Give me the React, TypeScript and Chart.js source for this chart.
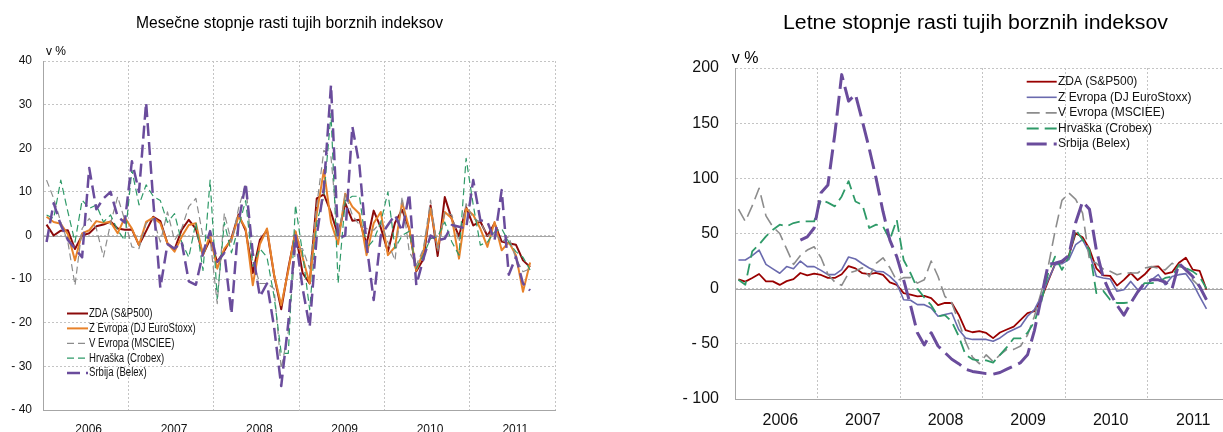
import React, { useEffect, useRef } from 'react';
import { Chart, registerables } from 'chart.js';

Chart.register(...registerables);

// ---------- labels ----------
const yearLabels = ['2006', '2007', '2008', '2009', '2010', '2011'];
const seriesNames = ['ZDA (S&P500)', 'Z Evropa (DJ EuroStoxx)', 'V Evropa (MSCIEE)', 'Hrvaška (Crobex)', 'Srbija (Belex)'];
const leftTitle = 'Mesečne stopnje rasti tujih borznih indeksov';
const rightTitle = 'Letne stopnje rasti tujih borznih indeksov';
const unitLabel = 'v %';

// ---------- monthly growth rates (Jan 2006 - Sep 2011) ----------
const monthlyZDA = [
  2.5, 0.0, 1.1, 1.2, -3.1, 0.0, 0.5, 2.1, 2.5, 3.2, 1.6, 1.3,
  1.4, -2.2, 1.0, 4.3, 3.3, -1.8, -3.2, 1.3, 3.6, 1.5, -4.4, -0.9,
  -6.1, -3.5, -0.6, 4.8, 1.1, -8.6, -1.0, 1.2, -9.1, -16.9, -7.5, 0.8,
  -8.6, -11.0, 8.5, 9.4, 5.3, 0.0, 7.4, 3.4, 3.6, -2.0, 5.7, 1.8,
  -3.7, 2.9, 5.9, 1.5, -8.2, -5.4, 6.9, -4.7, 8.8, 3.7, -0.2, 6.5,
  2.3, 3.2, -0.1, 2.8, -1.4, -1.8, -2.1, -5.7, -7.2,
];
const monthlyEuroStoxx = [
  4.3, 3.1, 2.7, 0.3, -5.7, 0.5, 1.2, 3.3, 2.9, 3.1, 0.5, 4.1,
  1.6, -2.2, 3.1, 4.1, 2.8, -1.8, -3.7, -0.3, 2.4, 2.8, -4.5, 0.1,
  -7.6, -3.0, -1.0, 4.5, 1.6, -11.4, -2.0, 1.6, -9.0, -16.0, -8.0, 1.0,
  -5.0, -11.0, 5.0, 15.0, 3.0, -2.0, 9.6, 6.6, 5.0, -4.5, 2.8, 5.4,
  -4.5, -2.6, 7.7, 1.6, -8.0, -3.7, 6.2, -3.0, 5.4, 3.9, -5.3, 6.2,
  4.7, 1.6, -2.6, 3.1, -3.4, -1.5, -4.5, -12.9, -6.2,
];
const monthlyMSCIEE = [
  12.7, 8.5, 3.1, -1.5, -11.4, 1.6, 3.9, 1.6, -4.9, 2.8, 8.9, 3.5,
  -2.6, -3.0, 2.8, 3.9, -1.5, 5.4, -1.1, 1.6, 6.6, 8.5, -0.3, -0.7,
  -15.6, 5.1, -1.5, 6.2, 11.9, -6.0, -11.0, -11.0, -12.2, -30.5, -22.0, -3.0,
  -3.0, -7.6, 7.0, 19.5, 18.0, -0.7, 9.6, 4.7, 2.4, 1.6, 1.2, 3.1,
  -1.5, -5.7, 8.9, -3.7, -6.8, -3.0, 8.1, -3.7, 5.4, 4.7, -1.5, 7.3,
  3.9, 3.1, 0.0, 0.8, -1.5, -0.3, -5.3, -8.3, -7.6,
];
const monthlyCrobex = [
  4.7, 3.9, 12.7, 5.4, -1.5, 8.1, 6.2, 7.0, 3.1, 4.7, 1.2, -1.1,
  15.0, 7.0, 11.6, 9.0, 8.0, 3.0, 5.0, -1.5, -5.0, 3.0, -8.0, 12.7,
  -14.5, 3.0, -4.0, 2.0, 8.0, -7.0, -3.0, -5.0, -14.0, -27.0, -27.0, 7.0,
  -4.0, -17.0, 3.0, 9.0, 28.0, -11.0, 8.0, 9.0, 9.0, -3.0, -1.0, 3.0,
  10.0, -3.0, 0.0, 1.0, -7.6, -4.5, -0.7, -0.3, 3.1, -1.5, -4.5, 17.7,
  7.0, -2.2, -1.5, 0.8, 1.6, -1.5, -3.7, -5.0, -7.9,
];
const monthlyBelex = [
  -1.5, 7.4, 2.4, -1.0, -3.0, -5.0, 15.5, 6.0, 8.5, 10.0, 4.3, 3.0,
  17.0, 10.0, 30.5, 8.0, -12.0, -2.0, -3.0, -1.5, -10.5, -11.3, -4.0, 1.0,
  -6.0, -4.0, -18.0, 3.0, 12.0, -4.0, -14.0, -11.0, -21.0, -34.5, -20.0, 0.0,
  -12.0, -21.0, 0.0, 11.0, 34.5, -0.7, 0.0, 25.0, 16.0, -2.0, -14.8, 0.0,
  2.4, 4.7, 1.0, 9.6, -11.4, -5.3, 0.0, -1.1, -0.7, 2.4, 2.0, 1.6,
  12.7, 3.5, 3.1, -1.1, 10.4, -9.0, -4.9, -11.0, -12.6,
];

// ---------- annual growth rates (Jan 2006 - Sep 2011) ----------
const yoyZDA = [
  8.4, 6.4, 9.7, 13.3, 6.6, 6.6, 3.4, 6.8, 8.7, 14.2, 12.1, 13.6,
  12.4, 9.8, 9.7, 13.1, 20.5, 18.4, 14.0, 13.1, 14.3, 12.4, 5.7, 3.5,
  -4.1, -5.4, -6.9, -6.5, -8.5, -14.9, -12.9, -13.0, -23.6, -37.5, -39.5, -38.5,
  -40.1, -44.8, -39.7, -37.0, -34.4, -28.2, -22.1, -20.4, -9.4, 7.0, 22.2, 23.5,
  30.0, 50.3, 46.6, 36.0, 18.5, 12.1, 11.6, 2.8, 8.0, 14.2, 7.8, 12.8,
  19.8, 20.2, 13.4, 14.9, 23.5, 28.1, 17.3, 16.2, -0.9,
];
const yoyEuroStoxx = [
  26, 26, 30, 35, 22, 18, 14, 20, 18, 25, 20, 20,
  16.6, 12.7, 12.7, 17.2, 28.7, 26.9, 22.6, 18.7, 15.7, 15.4, 11.2, 5,
  -10, -10.5, -14.5, -14.5, -17.5, -25, -23.5, -22, -37, -44.7, -46, -46,
  -46, -47.7, -44.7, -40, -37, -34, -25, -19, -7, 8, 21.7, 22.6,
  26.3, 40, 44.4, 32.3, 11.2, 9.7, 8.8, -2.4, -0.9, 6.6, -1, 0,
  8, 12.7, 3.6, 11, 12.7, 13.6, 5, -7, -18.4,
];
const yoyMSCIEE = [
  72, 61, 75, 91, 66, 56, 50, 36, 22, 30, 35, 38,
  28, 13, 6, 3, 14, 16, 19, 11, 23, 28, 19, 7,
  10, 10, 5, 8, 25, 11, -7, -13, -30, -48, -62, -68,
  -60, -66, -60, -55, -55, -52, -42, -25, -3, 20, 52, 80,
  86.7, 81, 68.5, 26, 23, 17.8, 15.7, 12.7, 14.2, 14.2, 14.2, 18.7,
  20, 18.7, 17, 23, 20, 18.7, 8, 2, -10,
];
const yoyCrobex = [
  8, 3.6, 33.8, 40, 47.4, 53.4, 58, 56.5, 59.5, 61, 61, 61,
  80.6, 78, 74.6, 83.6, 97.5, 79, 76, 55, 58, 56.5, 44.4, 62.5,
  26, 14, 0, -8, -15, -25, -24, -30, -43, -60, -64, -65,
  -65, -67, -60, -53, -45, -45, -40, -30, -12, 14, 29, 17,
  29, 53.4, 44.4, 35, -4, -2, -10, -13, -13, -12.4, -3, 5,
  5, 6, 9.7, 11, 21.7, 18.7, 15.7, 11, 0,
];
const yoyBelex = [
  null, null, null, null, null, null, null, null, null, 44, 47, 55,
  87, 94, 140, 194, 170, 176, 152, 127, 100, 70, 44, 29,
  8, -15, -40, -51, -40, -52, -58, -64, -68, -73, -75, -76,
  -77, -77.5, -76, -73, -70, -67, -60, -38, -8, 22, 23, 25,
  30, 60, 79, 72, 35, 10, -4, -15, -24, -13, -3, 5,
  8, 8, 6, 0, 23, 17, 11, 2, -10,
];

const leftSeries = [monthlyZDA, monthlyEuroStoxx, monthlyMSCIEE, monthlyCrobex, monthlyBelex];
const rightSeries = [yoyZDA, yoyEuroStoxx, yoyMSCIEE, yoyCrobex, yoyBelex];

const FONT = '"Liberation Sans", Arial, Helvetica, sans-serif';
const GRID = '#c4c4c4';
const AXIS = '#a6a6a6';

const leftStyles = [
  { color: '#8b0a0a', width: 2, dash: [] as number[] },
  { color: '#e8822a', width: 2, dash: [] as number[] },
  { color: '#8c8c8c', width: 1.2, dash: [7, 4] },
  { color: '#2f9a68', width: 1.2, dash: [7, 4] },
  { color: '#6a4c9c', width: 2.5, dash: [13, 6] },
];
const rightStyles = [
  { color: '#990000', width: 1.8, dash: [] as number[] },
  { color: '#6a6aae', width: 1.6, dash: [] as number[] },
  { color: '#8c8c8c', width: 1.6, dash: [13, 6] },
  { color: '#2f9a68', width: 1.8, dash: [12, 6] },
  { color: '#6a4c9c', width: 3, dash: [20, 7] },
];

function buildDatasets(series: any[][], styles: any[]) {
  return series.map((vals, k) => ({
    label: seriesNames[k],
    data: vals.map((v, i) => ({ x: i + 0.5, y: v })),
    borderColor: styles[k].color,
    backgroundColor: styles[k].color,
    borderWidth: styles[k].width,
    borderDash: styles[k].dash,
    borderJoinStyle: 'round',
    borderCapStyle: 'butt',
    pointRadius: 0,
    tension: 0,
    spanGaps: false,
    order: series.length - 1 - k,
  }));
}

function makeOverlay(cfg: any) {
  return {
    id: 'overlay_' + cfg.id,
    beforeDatasetsDraw(chart: any) {
      const { ctx, chartArea, scales } = chart;
      const y0 = Math.round(scales.y.getPixelForValue(0)) + 0.5;
      ctx.save();
      ctx.strokeStyle = AXIS;
      ctx.lineWidth = 1;
      ctx.setLineDash([]);
      ctx.beginPath();
      ctx.moveTo(chartArea.left, y0);
      ctx.lineTo(chartArea.right, y0);
      ctx.stroke();
      ctx.restore();
    },
    afterDraw(chart: any) {
      const ctx = chart.ctx;
      // title
      ctx.save();
      ctx.font = cfg.titleFont;
      ctx.fillStyle = '#000';
      ctx.textBaseline = 'alphabetic';
      ctx.textAlign = 'center';
      const w = ctx.measureText(cfg.title).width;
      ctx.translate(cfg.titleX, cfg.titleY);
      ctx.scale(cfg.titleWidth / w, 1);
      ctx.fillText(cfg.title, 0, 0);
      ctx.restore();
      // unit
      ctx.save();
      ctx.font = cfg.unitFont;
      ctx.fillStyle = '#000';
      ctx.textBaseline = 'alphabetic';
      ctx.textAlign = 'left';
      ctx.fillText(unitLabel, cfg.unitX, cfg.unitY);
      ctx.restore();
      // legend
      const L = cfg.legend;
      chart.data.datasets.forEach((ds: any, k: number) => {
        const y = L.y0 + k * L.step;
        ctx.save();
        ctx.strokeStyle = ds.borderColor;
        ctx.lineWidth = ds.borderWidth;
        ctx.setLineDash(ds.borderDash || []);
        ctx.lineCap = 'butt';
        ctx.beginPath();
        ctx.moveTo(L.x0, y);
        ctx.lineTo(L.x0 + L.len, y);
        ctx.stroke();
        ctx.restore();
        ctx.save();
        ctx.font = L.font;
        ctx.fillStyle = '#111';
        ctx.textBaseline = 'middle';
        ctx.textAlign = 'left';
        ctx.translate(L.textX, y);
        ctx.scale(L.scaleX, 1);
        ctx.fillText(ds.label, 0, 0);
        ctx.restore();
      });
    },
  };
}

const yLabel = (v: any) => (v < 0 ? '- ' + Math.abs(v) : String(v));

function makeConfig(opts: any) {
  const tickVals: number[] = [];
  for (let v = 0; v <= opts.xMax + 1e-9; v += 6) tickVals.push(v);
  return {
    type: 'line',
    data: { datasets: buildDatasets(opts.series, opts.styles) },
    options: {
      animation: false,
      responsive: false,
      maintainAspectRatio: false,
      devicePixelRatio: 1,
      layout: { padding: opts.padding },
      plugins: { legend: { display: false }, title: { display: false }, tooltip: { enabled: false } },
      elements: { point: { radius: 0 } },
      scales: {
        x: {
          type: 'linear',
          min: 0,
          max: opts.xMax,
          afterBuildTicks: (scale: any) => {
            scale.ticks = tickVals.map((v) => ({ value: v }));
          },
          afterFit: (scale: any) => {
            scale.height = opts.xHeight;
          },
          grid: {
            color: (c: any) => (c.tick && c.tick.value % 12 === 0 ? GRID : 'rgba(0,0,0,0)'),
            lineWidth: 1,
            drawTicks: false,
          },
          border: { display: true, color: AXIS, width: 1, dash: [2, 2] },
          ticks: {
            autoSkip: false,
            maxRotation: 0,
            minRotation: 0,
            padding: opts.xPad,
            labelOffset: opts.labelOffset,
            color: '#111',
            font: { family: FONT, size: opts.xFont },
            callback: (v: any) => (v % 12 === 6 ? yearLabels[(v - 6) / 12] : ''),
          },
        },
        y: {
          type: 'linear',
          min: opts.yMin,
          max: opts.yMax,
          afterFit: (scale: any) => {
            scale.width = opts.yWidth;
          },
          grid: { color: GRID, lineWidth: 1, drawTicks: false },
          border: { display: true, color: AXIS, width: 1, dash: [2, 2] },
          ticks: {
            stepSize: opts.yStep,
            padding: opts.yPad,
            color: '#111',
            font: { family: FONT, size: opts.yFont },
            callback: yLabel,
          },
        },
      },
    },
    plugins: [makeOverlay(opts.overlay)],
  };
}

export default function App() {
  const leftRef = useRef<HTMLCanvasElement | null>(null);
  const rightRef = useRef<HTMLCanvasElement | null>(null);

  useEffect(() => {
    const left = new Chart(leftRef.current as any, makeConfig({
      series: leftSeries,
      styles: leftStyles,
      xMax: 72,
      padding: { top: 61, right: 45, bottom: 0, left: 0 },
      xHeight: 22,
      yWidth: 43,
      xPad: 12,
      yPad: 11,
      xFont: 12,
      yFont: 12,
      labelOffset: 3,
      yMin: -40,
      yMax: 40,
      yStep: 10,
      overlay: {
        id: 'left',
        title: leftTitle,
        titleFont: `17px ${FONT}`,
        titleX: 289.5,
        titleY: 28.3,
        titleWidth: 307,
        unitFont: `12px ${FONT}`,
        unitX: 46,
        unitY: 55,
        legend: { x0: 67, len: 21, textX: 89, y0: 313.5, step: 14.9, font: `12px ${FONT}`, scaleX: 0.8 },
      },
    }) as any);
    const right = new Chart(rightRef.current as any, makeConfig({
      series: rightSeries,
      styles: rightStyles,
      xMax: 70.9,
      padding: { top: 68, right: 0, bottom: 0, left: 0 },
      xHeight: 33,
      yWidth: 135,
      xPad: 12,
      yPad: 16,
      xFont: 16,
      yFont: 16,
      labelOffset: 4,
      yMin: -100,
      yMax: 200,
      yStep: 50,
      overlay: {
        id: 'right',
        title: rightTitle,
        titleFont: `20px ${FONT}`,
        titleX: 375.5,
        titleY: 29.3,
        titleWidth: 385,
        unitFont: `16px ${FONT}`,
        unitX: 131.7,
        unitY: 62.5,
        legend: { x0: 426.7, len: 30, textX: 458, y0: 81.7, step: 15.6, font: `12px ${FONT}`, scaleX: 1 },
      },
    }) as any);
    return () => {
      left.destroy();
      right.destroy();
    };
  }, []);

  return (
    <div style={{ position: 'absolute', left: 0, top: 0, width: 1223, height: 432, overflow: 'hidden', background: '#fff' }}>
      <canvas ref={leftRef} width={600} height={432} style={{ position: 'absolute', left: 0, top: 0, width: 600, height: 432, display: 'block' }} />
      <canvas ref={rightRef} width={623} height={432} style={{ position: 'absolute', left: 600, top: 0, width: 623, height: 432, display: 'block' }} />
    </div>
  );
}
